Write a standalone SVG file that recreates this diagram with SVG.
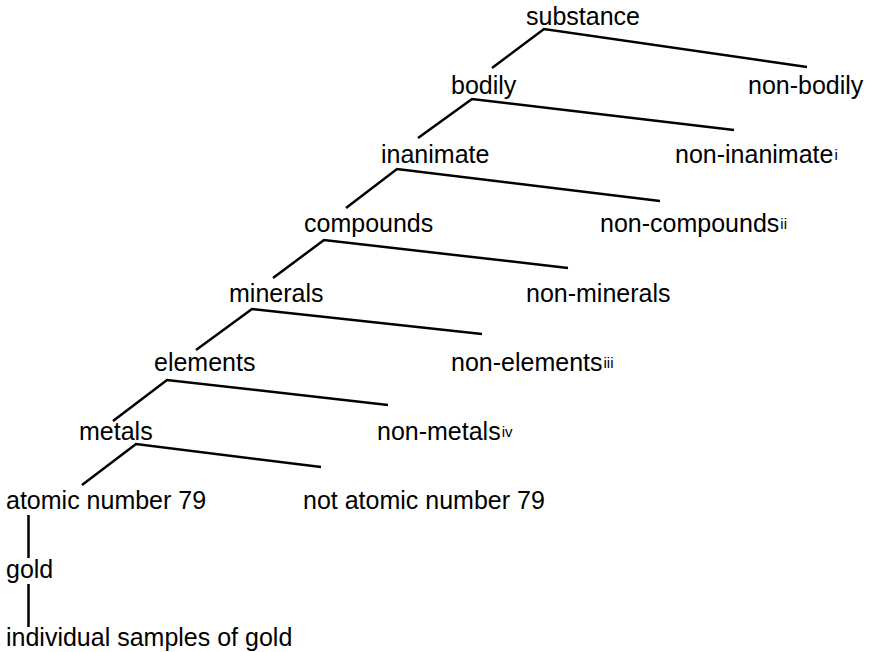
<svg xmlns="http://www.w3.org/2000/svg" width="875" height="652" viewBox="0 0 875 652">
<style>
text{font-family:"Liberation Sans",Arial,Helvetica,sans-serif;font-size:25px;fill:#000}
.sup{font-size:15px}
#connectors path{fill:none;stroke:#000;stroke-width:2.5;stroke-linecap:butt;stroke-linejoin:miter}
</style>
<rect width="875" height="652" fill="#fff"/>
<g id="connectors">
<path d="M492,68 L544,29 L807,67"/>
<path d="M418,138 L472,99 L734,130"/>
<path d="M346,208 L397,169 L660,201"/>
<path d="M273,278 L324,240 L568,268"/>
<path d="M196,350 L252,309 L482,334"/>
<path d="M113,421 L167,380 L388,405"/>
<path d="M82,485 L136,444 L321,467"/>
<path d="M28.5,515 L28.5,558"/>
<path d="M28.5,584 L28.5,627"/>
</g>
<g id="substance"><text x="526" y="24.5">substance</text></g>
<g id="bodily"><text x="451" y="94">bodily</text></g>
<g id="non-bodily"><text x="748" y="94">non-bodily</text></g>
<g id="inanimate"><text x="381" y="163">inanimate</text></g>
<g id="non-inanimate"><text x="675" y="163">non-inanimate<tspan class="sup" dx="1" dy="-3">i</tspan></text></g>
<g id="compounds"><text x="304" y="232">compounds</text></g>
<g id="non-compounds"><text x="600" y="232">non-compounds<tspan class="sup" dx="1" dy="-3">ii</tspan></text></g>
<g id="minerals"><text x="229" y="302">minerals</text></g>
<g id="non-minerals"><text x="526" y="302">non-minerals</text></g>
<g id="elements"><text x="154" y="371">elements</text></g>
<g id="non-elements"><text x="451" y="371">non-elements<tspan class="sup" dx="1" dy="-3">iii</tspan></text></g>
<g id="metals"><text x="79" y="440">metals</text></g>
<g id="non-metals"><text x="377" y="440">non-metals<tspan class="sup" dx="1" dy="-3">iv</tspan></text></g>
<g id="atomic-number-79"><text x="6" y="509">atomic number 79</text></g>
<g id="not-atomic-number-79"><text x="303" y="509">not atomic number 79</text></g>
<g id="gold"><text x="6" y="578">gold</text></g>
<g id="individual-samples"><text x="6" y="646">individual samples of gold</text></g>
</svg>
